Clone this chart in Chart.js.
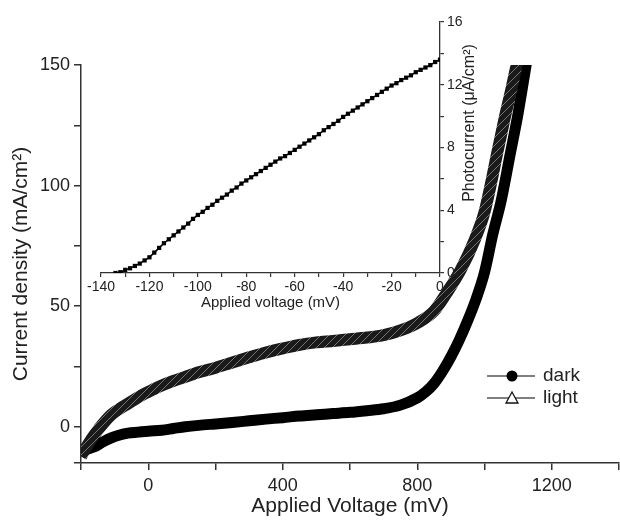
<!DOCTYPE html>
<html>
<head>
<meta charset="utf-8">
<script src="https://cdn.jsdelivr.net/npm/chart.js@4.4.1/dist/chart.umd.min.js"></script>
<style>
  html, body { margin: 0; padding: 0; background: #fff; }
  #wrap { position: relative; width: 620px; height: 522px; }
  #wrap canvas { position: absolute; left: 0; top: 0; }
</style>
</head>
<body>
<div id="wrap">
  <canvas id="main" width="620" height="522"></canvas>
  <canvas id="inset" width="620" height="522"></canvas>
</div>
<script>
// main J-V curves (mV, mA/cm2)
const darkVoltage = [-200, -180, -160, -135, -110, -85, -60, -30, 0, 40, 75, 110, 150, 200, 250, 300, 350, 400, 450, 500, 550, 600, 650, 700, 750, 800, 825, 850, 875, 900, 925, 950, 975, 1000, 1025, 1050, 1075, 1100, 1125];
const darkCurrent = [-10.2, -9.2, -8.3, -6.3, -4.6, -3.4, -2.6, -2.2, -1.8, -1.4, -0.7, 0, 0.6, 1.2, 1.8, 2.5, 3.2, 3.8, 4.5, 5, 5.5, 6, 6.7, 7.5, 9, 12, 14.5, 18, 23, 29, 36, 44, 53, 64, 80, 94, 112, 130, 151];

const lightVoltage = [-200, -180, -160, -135, -110, -85, -60, -35, -10, 15, 40, 75, 108, 150, 200, 250, 300, 350, 400, 450, 500, 550, 600, 650, 700, 750, 800, 850, 888, 929, 971, 1000, 1021, 1037, 1060, 1080, 1100];
const lightCurrent = [-12.3, -7.5, -3.3, 1.2, 5.0, 7.5, 9.6, 11.8, 13.8, 15.5, 17.1, 19, 20.6, 22.6, 24.5, 26.7, 28.8, 30.8, 32.5, 34, 35, 35.6, 36.3, 37, 38, 40, 43, 48, 55.6, 65, 77.6, 89, 102, 113, 128, 140, 153];

// inset photocurrent (mV, uA/cm2)
const insetVoltage = [-134, -132, -130, -128, -126, -124, -122, -120, -118, -116, -114, -112, -110, -108, -106, -104, -102, -100, -98, -96, -94, -92, -90, -88, -86, -84, -82, -80, -78, -76, -74, -72, -70, -68, -66, -64, -62, -60, -58, -56, -54, -52, -50, -48, -46, -44, -42, -40, -38, -36, -34, -32, -30, -28, -26, -24, -22, -20, -18, -16, -14, -12, -10, -8, -6, -4, -2, 0];
const insetCurrent = [0.0, 0.05, 0.2, 0.3, 0.45, 0.6, 0.8, 1.0, 1.3, 1.6, 1.9, 2.15, 2.4, 2.65, 2.9, 3.15, 3.45, 3.7, 3.9, 4.15, 4.35, 4.6, 4.8, 5.0, 5.25, 5.45, 5.7, 5.9, 6.1, 6.3, 6.5, 6.7, 6.9, 7.1, 7.3, 7.45, 7.65, 7.85, 8.05, 8.25, 8.45, 8.65, 8.85, 9.1, 9.3, 9.5, 9.7, 9.95, 10.15, 10.35, 10.55, 10.75, 10.95, 11.15, 11.35, 11.55, 11.75, 11.95, 12.1, 12.3, 12.45, 12.6, 12.8, 12.95, 13.1, 13.25, 13.45, 13.6];

const mainXLabels = [0, 400, 800, 1200];
const mainYLabels = [0, 50, 100, 150];
const legendNames = ['dark', 'light'];

const FONT = "'Liberation Sans', Arial, sans-serif";
const INK = '#222';
const AXIS = '#333';

function toPoints(xs, ys) {
  return xs.map((x, i) => ({ x: x, y: ys[i] }));
}

// hatched look of the dense open triangles
function hatchPattern() {
  const c = document.createElement('canvas');
  c.width = 8;
  c.height = 8;
  const g = c.getContext('2d');
  g.fillStyle = '#1a1a1a';
  g.fillRect(0, 0, 8, 8);
  g.strokeStyle = '#808080';
  g.lineWidth = 0.9;
  g.beginPath();
  g.moveTo(0, 8);
  g.lineTo(8, 0);
  g.stroke();
  return g.createPattern(c, 'repeat');
}

const legendPlugin = {
  id: 'symLegend',
  afterDraw(chart) {
    const ctx = chart.ctx;
    const rows = [376, 398];
    ctx.save();
    rows.forEach((y, i) => {
      ctx.strokeStyle = '#555';
      ctx.lineWidth = 1.3;
      ctx.beginPath();
      ctx.moveTo(487, y);
      ctx.lineTo(535, y);
      ctx.stroke();
      if (i === 0) {
        ctx.fillStyle = '#000';
        ctx.beginPath();
        ctx.arc(512, y, 5.5, 0, Math.PI * 2);
        ctx.fill();
      } else {
        ctx.fillStyle = '#fff';
        ctx.strokeStyle = '#111';
        ctx.lineWidth = 1.3;
        ctx.beginPath();
        ctx.moveTo(512, y - 6);
        ctx.lineTo(518, y + 5);
        ctx.lineTo(506, y + 5);
        ctx.closePath();
        ctx.fill();
        ctx.stroke();
      }
      ctx.fillStyle = INK;
      ctx.font = '19px ' + FONT;
      ctx.textBaseline = 'middle';
      ctx.textAlign = 'left';
      ctx.fillText(legendNames[i], 543, y);
    });
    ctx.restore();
  }
};

new Chart(document.getElementById('main'), {
  type: 'line',
  data: {
    datasets: [
      {
        label: 'light',
        data: toPoints(lightVoltage, lightCurrent),
        borderColor: hatchPattern(),
        borderWidth: 12,
        pointRadius: 0,
        cubicInterpolationMode: 'monotone',
        clip: 0
      },
      {
        label: 'dark',
        data: toPoints(darkVoltage, darkCurrent),
        borderColor: '#000',
        borderWidth: 11,
        pointRadius: 0,
        cubicInterpolationMode: 'monotone',
        clip: 0
      }
    ]
  },
  options: {
    responsive: false,
    animation: false,
    layout: { padding: { top: 65, right: 1, left: 0, bottom: 0 } },
    plugins: { legend: { display: false }, tooltip: { enabled: false } },
    scales: {
      x: {
        type: 'linear',
        min: -200,
        max: 1400,
        afterFit: s => { s.height = 59; s.paddingLeft = 0; s.paddingRight = 0; },
        border: { display: true, color: AXIS, width: 1.5 },
        grid: { drawOnChartArea: false, color: AXIS, tickLength: 7, lineWidth: 1.5 },
        ticks: {
          stepSize: 200,
          autoSkip: false,
          maxRotation: 0,
          padding: 5,
          color: INK,
          font: { family: FONT, size: 18 },
          callback: v => (mainXLabels.includes(v) ? String(v) : '')
        },
        title: {
          display: true,
          text: 'Applied Voltage (mV)',
          color: INK,
          font: { family: FONT, size: 21 },
          padding: { top: 0, bottom: 3 }
        }
      },
      y: {
        type: 'linear',
        min: -15,
        max: 150,
        afterFit: s => { s.width = 81; },
        border: { display: true, color: AXIS, width: 1.5 },
        grid: { drawOnChartArea: false, color: AXIS, tickLength: 7, lineWidth: 1.5 },
        ticks: {
          stepSize: 25,
          autoSkip: false,
          padding: 4,
          color: INK,
          font: { family: FONT, size: 18 },
          callback: v => (mainYLabels.includes(v) ? String(v) : '')
        },
        title: {
          display: true,
          text: 'Current density (mA/cm²)',
          color: INK,
          font: { family: FONT, size: 21 },
          padding: { top: 9, bottom: 0 }
        }
      }
    }
  },
  plugins: [legendPlugin]
});

// inset y title reads bottom-to-top, so draw it by hand
const insetTitlePlugin = {
  id: 'insetTitle',
  afterDraw(chart) {
    const ctx = chart.ctx;
    const area = chart.chartArea;
    ctx.save();
    ctx.translate(area.right + 30, area.top + 101);
    ctx.rotate(-Math.PI / 2);
    ctx.fillStyle = INK;
    ctx.font = '16px ' + FONT;
    ctx.textAlign = 'center';
    ctx.textBaseline = 'middle';
    ctx.fillText('Photocurrent (μA/cm²)', 0, 0);
    ctx.restore();
  }
};

new Chart(document.getElementById('inset'), {
  type: 'line',
  data: {
    datasets: [{
      label: 'photocurrent',
      data: toPoints(insetVoltage, insetCurrent),
      borderColor: '#000',
      borderWidth: 1.5,
      pointStyle: 'rect',
      pointRadius: 3,
      pointBackgroundColor: '#000',
      pointBorderWidth: 0
    }]
  },
  options: {
    responsive: false,
    animation: false,
    layout: { padding: { top: 22, left: 101, right: 140, bottom: 210 } },
    plugins: { legend: { display: false }, tooltip: { enabled: false } },
    scales: {
      x: {
        type: 'linear',
        min: -140,
        max: 0,
        afterFit: s => { s.height = 39; },
        border: { display: true, color: AXIS, width: 1.3 },
        grid: { drawOnChartArea: false, color: AXIS, tickLength: 4, lineWidth: 1.2 },
        ticks: {
          stepSize: 10,
          autoSkip: false,
          maxRotation: 0,
          padding: 2,
          color: INK,
          font: { family: FONT, size: 14 },
          callback: v => (v % 20 === 0 ? String(v) : '')
        },
        title: {
          display: true,
          text: 'Applied voltage (mV)',
          color: INK,
          font: { family: FONT, size: 15 },
          padding: { top: 0, bottom: 0 }
        }
      },
      y: {
        type: 'linear',
        position: 'right',
        min: 0,
        max: 16,
        afterFit: s => { s.width = 40; },
        border: { display: true, color: AXIS, width: 1.3 },
        grid: { drawOnChartArea: false, color: AXIS, tickLength: 4, lineWidth: 1.2 },
        ticks: {
          stepSize: 2,
          autoSkip: false,
          padding: 3,
          color: INK,
          font: { family: FONT, size: 14 },
          callback: v => (v % 4 === 0 ? String(v) : '')
        }
      }
    }
  },
  plugins: [insetTitlePlugin]
});
</script>
</body>
</html>
